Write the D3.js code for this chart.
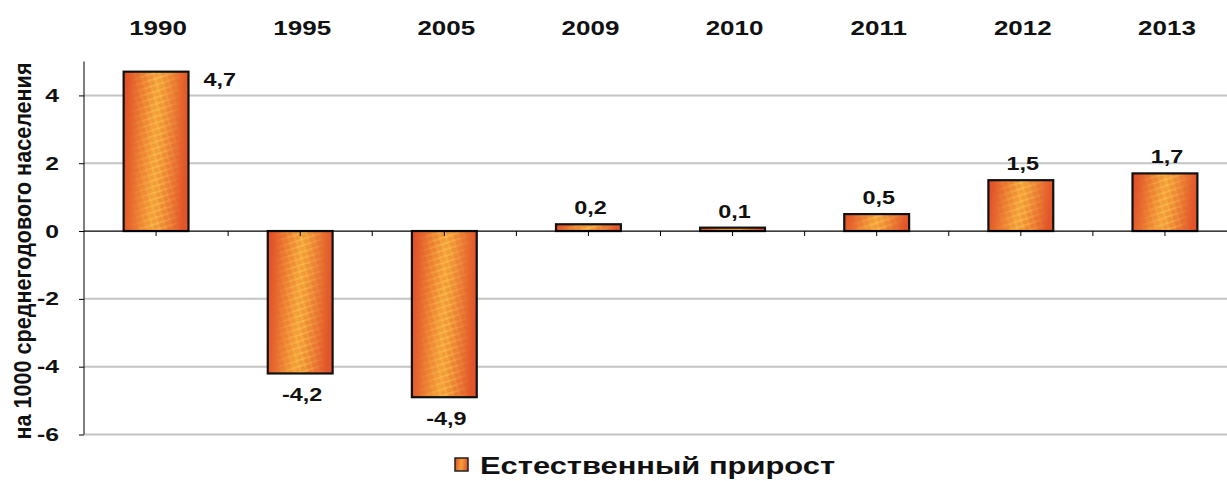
<!DOCTYPE html>
<html><head><meta charset="utf-8">
<script src="https://cdn.jsdelivr.net/npm/d3@7"></script>
<style>body{margin:0;background:#fff}svg{display:block}text{font-family:"Liberation Sans",Arial,sans-serif;font-weight:bold}</style>
</head><body><svg id="c" width="1227" height="481"></svg>
<script>
const years = ["1990","1995","2005","2009","2010","2011","2012","2013"];
const values = [4.7,-4.2,-4.9,0.2,0.1,0.5,1.5,1.7];
const labels = ["4,7","-4,2","-4,9","0,2","0,1","0,5","1,5","1,7"];
const yTicks = [-6,-4,-2,0,2,4];
const seriesName = "Естественный прирост";
const yTitle = "на 1000  среднегодового населения";

(function(){
const svg = d3.select("#c");
const SX = 1.3;
const pl = 84, pr = 1237, pt = 61.5, pb = 434.5;
const x = d3.scaleBand().domain(years).range([pl, pr]).paddingInner(0.55).paddingOuter(0.275);
const y = d3.scaleLinear().domain([-6,5]).range([pb, pt]);

const defs = svg.append("defs");
const g = defs.append("linearGradient").attr("id","bg").attr("x1","0").attr("x2","1").attr("y1","0").attr("y2","0.1");
g.append("stop").attr("offset","0").attr("stop-color","#df4a27");
g.append("stop").attr("offset","0.52").attr("stop-color","#f4a03a");
g.append("stop").attr("offset","0.62").attr("stop-color","#f09438");
g.append("stop").attr("offset","1").attr("stop-color","#e2552a");
const mg = defs.append("linearGradient").attr("id","mg").attr("x1","0").attr("x2","1");
mg.append("stop").attr("offset","0.1").attr("stop-color","#000");
mg.append("stop").attr("offset","0.52").attr("stop-color","#fff");
mg.append("stop").attr("offset","0.9").attr("stop-color","#000");
defs.append("mask").attr("id","mk").attr("maskContentUnits","objectBoundingBox")
  .append("rect").attr("width",1).attr("height",1).attr("fill","url(#mg)");
const pat = defs.append("pattern").attr("id","pt").attr("patternUnits","userSpaceOnUse")
  .attr("width",6).attr("height",6).attr("patternTransform","rotate(-18)");
pat.append("line").attr("x1",0).attr("y1",3).attr("x2",6).attr("y2",3).attr("stroke","#ffd35a").attr("stroke-width",1.8).attr("opacity",0.45);
pat.append("line").attr("x1",3).attr("y1",0).attr("x2",3).attr("y2",6).attr("stroke","#ffd35a").attr("stroke-width",1.4).attr("opacity",0.35);

svg.append("g").selectAll("line").data(yTicks.filter(d=>d!==0)).join("line")
  .attr("x1",pl).attr("x2",1227).attr("y1",d=>y(d)).attr("y2",d=>y(d))
  .attr("stroke","#c4c4c4").attr("stroke-width",2);

const ya = svg.append("g").attr("transform",`translate(${pl},0)`)
  .call(d3.axisLeft(y).tickValues(yTicks).tickSize(5).tickPadding(20).tickFormat(d=>d));
ya.select(".domain").attr("d",`M0,${pt}V${pb}`).attr("stroke","#000");
ya.selectAll(".tick text").each(function(){
  const t = d3.select(this);
  const xx = +t.attr("x");
  t.attr("x",0).attr("transform",`translate(${xx},0) scale(${SX},1)`);
}).attr("font-size",19).attr("font-weight","bold").attr("fill","#111")
  .style("font-family","'Liberation Sans',Arial,sans-serif");

const bars = svg.append("g").selectAll("g").data(values).join("g");
bars.append("rect")
  .attr("x",(d,i)=>x(years[i])).attr("width",x.bandwidth())
  .attr("y",d=>y(Math.max(0,d))).attr("height",d=>Math.abs(y(d)-y(0)))
  .attr("fill","url(#bg)");
bars.append("rect")
  .attr("x",(d,i)=>x(years[i])).attr("width",x.bandwidth())
  .attr("y",d=>y(Math.max(0,d))).attr("height",d=>Math.abs(y(d)-y(0)))
  .attr("fill","url(#pt)").attr("mask","url(#mk)");
bars.append("rect")
  .attr("x",(d,i)=>x(years[i])).attr("width",x.bandwidth())
  .attr("y",d=>y(Math.max(0,d))).attr("height",d=>Math.abs(y(d)-y(0)))
  .attr("fill","none").attr("stroke","#111").attr("stroke-width",2.2);

svg.append("line").attr("x1",pl).attr("x2",1227).attr("y1",y(0)).attr("y2",y(0)).attr("stroke","#000").attr("stroke-width",1.2);
const step = x.step();
const xt = [];
years.forEach(c=>{xt.push(x(c)+x.bandwidth()/2); xt.push(x(c)+x.bandwidth()/2+step/2);});
svg.append("g").selectAll("line").data(xt).join("line")
  .attr("x1",d=>d).attr("x2",d=>d).attr("y1",y(0)).attr("y2",y(0)+5).attr("stroke","#000");

svg.append("g").selectAll("text").data(years).join("text")
  .attr("transform",d=>`translate(${x(d)+x.bandwidth()/2+2},35) scale(${SX},1)`)
  .attr("text-anchor","middle")
  .attr("font-size",20).attr("fill","#111").text(d=>d);

svg.append("g").selectAll("text").data(values).join("text")
  .attr("transform",(d,i)=>{
    const xx = i===0 ? x(years[i])+x.bandwidth()+15 : x(years[i])+x.bandwidth()/2+2;
    const yy = i===0 ? y(d)+14 : d>=0 ? y(d)-10 : y(d)+28;
    return `translate(${xx},${yy}) scale(${SX},1)`;
  })
  .attr("text-anchor",(d,i)=>i===0?"start":"middle")
  .attr("font-size",18).attr("fill","#111").text((d,i)=>labels[i]);

svg.append("text").attr("transform",`translate(31,251) scale(${SX},1) rotate(-90)`).attr("text-anchor","middle")
  .attr("font-size",18).attr("textLength",377).attr("lengthAdjust","spacingAndGlyphs")
  .attr("fill","#111").text(yTitle);

svg.append("rect").attr("x",455).attr("y",458).attr("width",13).attr("height",13)
  .attr("fill","url(#bg)").attr("stroke","#222").attr("stroke-width",1.5);
svg.append("text").attr("x",480).attr("y",474).attr("font-size",24)
  .attr("textLength",355).attr("lengthAdjust","spacingAndGlyphs")
  .attr("fill","#111").text(seriesName);
})();
</script></body></html>
